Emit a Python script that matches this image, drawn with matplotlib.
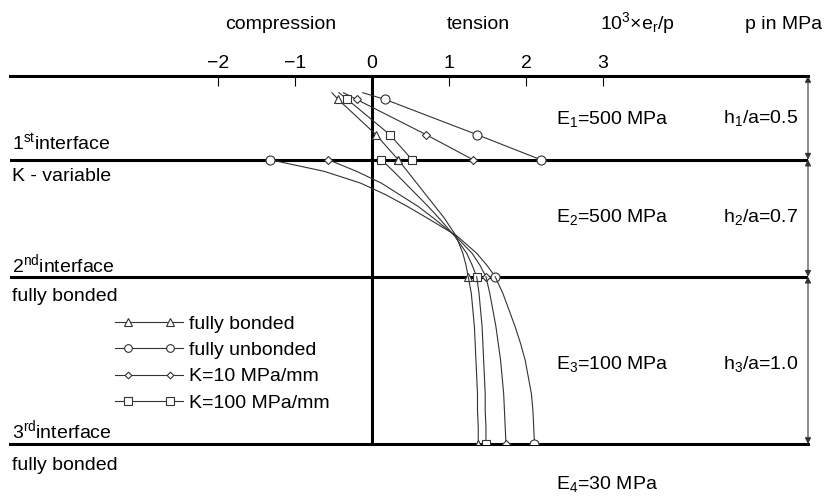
import matplotlib
matplotlib.use("Agg")
import matplotlib.pyplot as plt
from matplotlib.lines import Line2D
from matplotlib.legend_handler import HandlerLine2D, HandlerTuple

plt.rcParams['font.family'] = ['Liberation Sans', 'DejaVu Sans']
plt.rcParams['mathtext.fontset'] = 'custom'
plt.rcParams['mathtext.rm'] = 'Liberation Sans'
plt.rcParams['mathtext.default'] = 'regular'

# depth z/a, layer by layer
depth_l1 = [0.10, 0.14, 0.35, 0.50]
depth_l2 = [0.50, 0.57, 0.64, 0.71, 0.78, 0.85, 0.955, 1.06, 1.13, 1.20]
depth_l3 = [1.20, 1.30, 1.40, 1.50, 1.60, 1.70, 1.80, 1.90, 2.00, 2.10, 2.20]
interfaces = [0.5, 1.2]

# 10^3 x e_r / p
bonded_l1 = [-0.52, -0.44, 0.05, 0.34]
bonded_l2 = [0.34, 0.46, 0.58, 0.70, 0.82, 0.94, 1.09, 1.18, 1.22, 1.25]
bonded_l3 = [1.25, 1.29, 1.31, 1.33, 1.34, 1.35, 1.36, 1.37, 1.37, 1.38, 1.38]

unbonded_l1 = [-0.12, 0.17, 1.36, 2.19]
unbonded_l2 = [-1.33, -0.62, -0.15, 0.18, 0.46, 0.72, 1.10, 1.36, 1.49, 1.60]
unbonded_l3 = [1.60, 1.70, 1.78, 1.86, 1.93, 1.99, 2.03, 2.07, 2.09, 2.10, 2.11]

k10_l1 = [-0.37, -0.20, 0.70, 1.31]
k10_l2 = [-0.57, -0.20, 0.12, 0.36, 0.60, 0.80, 1.08, 1.30, 1.40, 1.48]
k10_l3 = [1.48, 1.53, 1.57, 1.61, 1.64, 1.67, 1.69, 1.71, 1.72, 1.73, 1.74]

k100_l1 = [-0.43, -0.32, 0.23, 0.52]
k100_l2 = [0.12, 0.28, 0.43, 0.58, 0.73, 0.87, 1.07, 1.23, 1.30, 1.36]
k100_l3 = [1.36, 1.39, 1.41, 1.43, 1.44, 1.45, 1.46, 1.47, 1.47, 1.48, 1.48]

labels = ['fully bonded', 'fully unbonded', 'K=10 MPa/mm', 'K=100 MPa/mm']
markers = ['^', 'o', 'D', 's']
msizes = [6, 6.5, 4, 6]
cases = [(bonded_l1, bonded_l2, bonded_l3),
         (unbonded_l1, unbonded_l2, unbonded_l3),
         (k10_l1, k10_l2, k10_l3),
         (k100_l1, k100_l2, k100_l3)]

W, H = 832, 498
fs = 14
lc = '#333333'


def fx(p):
    return p / W


def fy(p):
    return 1 - p / H


fig = plt.figure(figsize=(W / 100, H / 100), dpi=100)
ax = fig.add_axes([fx(10), fy(444), fx(808) - fx(10), fy(76) - fy(444)])
ax.set_xlim((10 - 372) / 77, (808 - 372) / 77)
ax.set_ylim(2.2, 0)

for (l1, l2, l3), m, ms in zip(cases, markers, msizes):
    style = dict(color=lc, lw=0.8, marker=m, ms=ms, mfc='white', mec=lc, mew=0.8, zorder=4)
    ax.plot(l1, depth_l1, markevery=[1, 2, 3], **style)
    ax.plot(l2, depth_l2, markevery=[0, len(l2) - 1], **style)
    ax.plot(l3, depth_l3, markevery=[len(l3) - 1], **style)

for z in interfaces:
    ax.axhline(z, color='black', lw=2.2, zorder=2)
ax.axvline(0, color='black', lw=2.2, zorder=2)

for s in ['left', 'right']:
    ax.spines[s].set_visible(False)
for s in ['top', 'bottom']:
    ax.spines[s].set_linewidth(2.2)

ax.xaxis.tick_top()
ax.set_xticks([-2, -1, 0, 1, 2, 3])
ax.tick_params(axis='x', direction='in', length=7, width=0.8, pad=3, labelsize=fs)
ax.set_yticks([])

# layer thickness arrows
for z0, z1 in [(0, 0.5), (0.5, 1.2), (1.2, 2.2)]:
    ax.annotate('', xy=(1.0, z1), xytext=(1.0, z0),
                xycoords=('axes fraction', 'data'), textcoords=('axes fraction', 'data'),
                arrowprops=dict(arrowstyle='<|-|>', color=lc, lw=0.8, mutation_scale=9,
                                shrinkA=0, shrinkB=0), annotation_clip=False)

# header texts
fig.text(fx(281), fy(29), 'compression', ha='center', va='baseline', fontsize=fs)
fig.text(fx(478), fy(29), 'tension', ha='center', va='baseline', fontsize=fs)
fig.text(fx(600), fy(29), '10$^3$×e$_r$/p', ha='left', va='baseline', fontsize=fs)
fig.text(fx(745), fy(29), 'p in MPa', ha='left', va='baseline', fontsize=fs)

# left interface notes
left_notes = [('1$^{st}$interface', 150), ('K - variable', 181),
              ('2$^{nd}$interface', 272), ('fully bonded', 301),
              ('3$^{rd}$interface', 438), ('fully bonded', 470)]
for txt, yy in left_notes:
    fig.text(fx(12), fy(yy), txt, ha='left', va='baseline', fontsize=fs)

# layer moduli and thicknesses
for txt, yy in [('E$_1$=500 MPa', 124), ('E$_2$=500 MPa', 222),
                ('E$_3$=100 MPa', 369), ('E$_4$=30 MPa', 489)]:
    fig.text(fx(556), fy(yy), txt, ha='left', va='baseline', fontsize=fs)
for txt, yy in [('h$_1$/a=0.5', 123), ('h$_2$/a=0.7', 222), ('h$_3$/a=1.0', 369)]:
    fig.text(fx(723), fy(yy), txt, ha='left', va='baseline', fontsize=fs)

# legend: line runs past the two markers
handles = []
hmap = {}
for m, ms in zip(markers, msizes):
    ln = Line2D([], [], color=lc, lw=0.8)
    mk = Line2D([], [], ls='none', marker=m, ms=ms * 0.85, mfc='white', mec=lc, mew=0.8)
    hmap[ln] = HandlerLine2D(marker_pad=0, numpoints=2)
    hmap[mk] = HandlerLine2D(marker_pad=0.67, numpoints=2)
    handles.append((ln, mk))
hmap[tuple] = HandlerTuple(ndivide=1, pad=0)
fig.legend(handles, labels, handler_map=hmap, loc='upper left',
           bbox_to_anchor=(fx(115), fy(315)), frameon=False, fontsize=fs,
           borderpad=0, borderaxespad=0, handlelength=3.5, handletextpad=0.3,
           labelspacing=0.45)

fig.savefig('out.png', dpi=100)
